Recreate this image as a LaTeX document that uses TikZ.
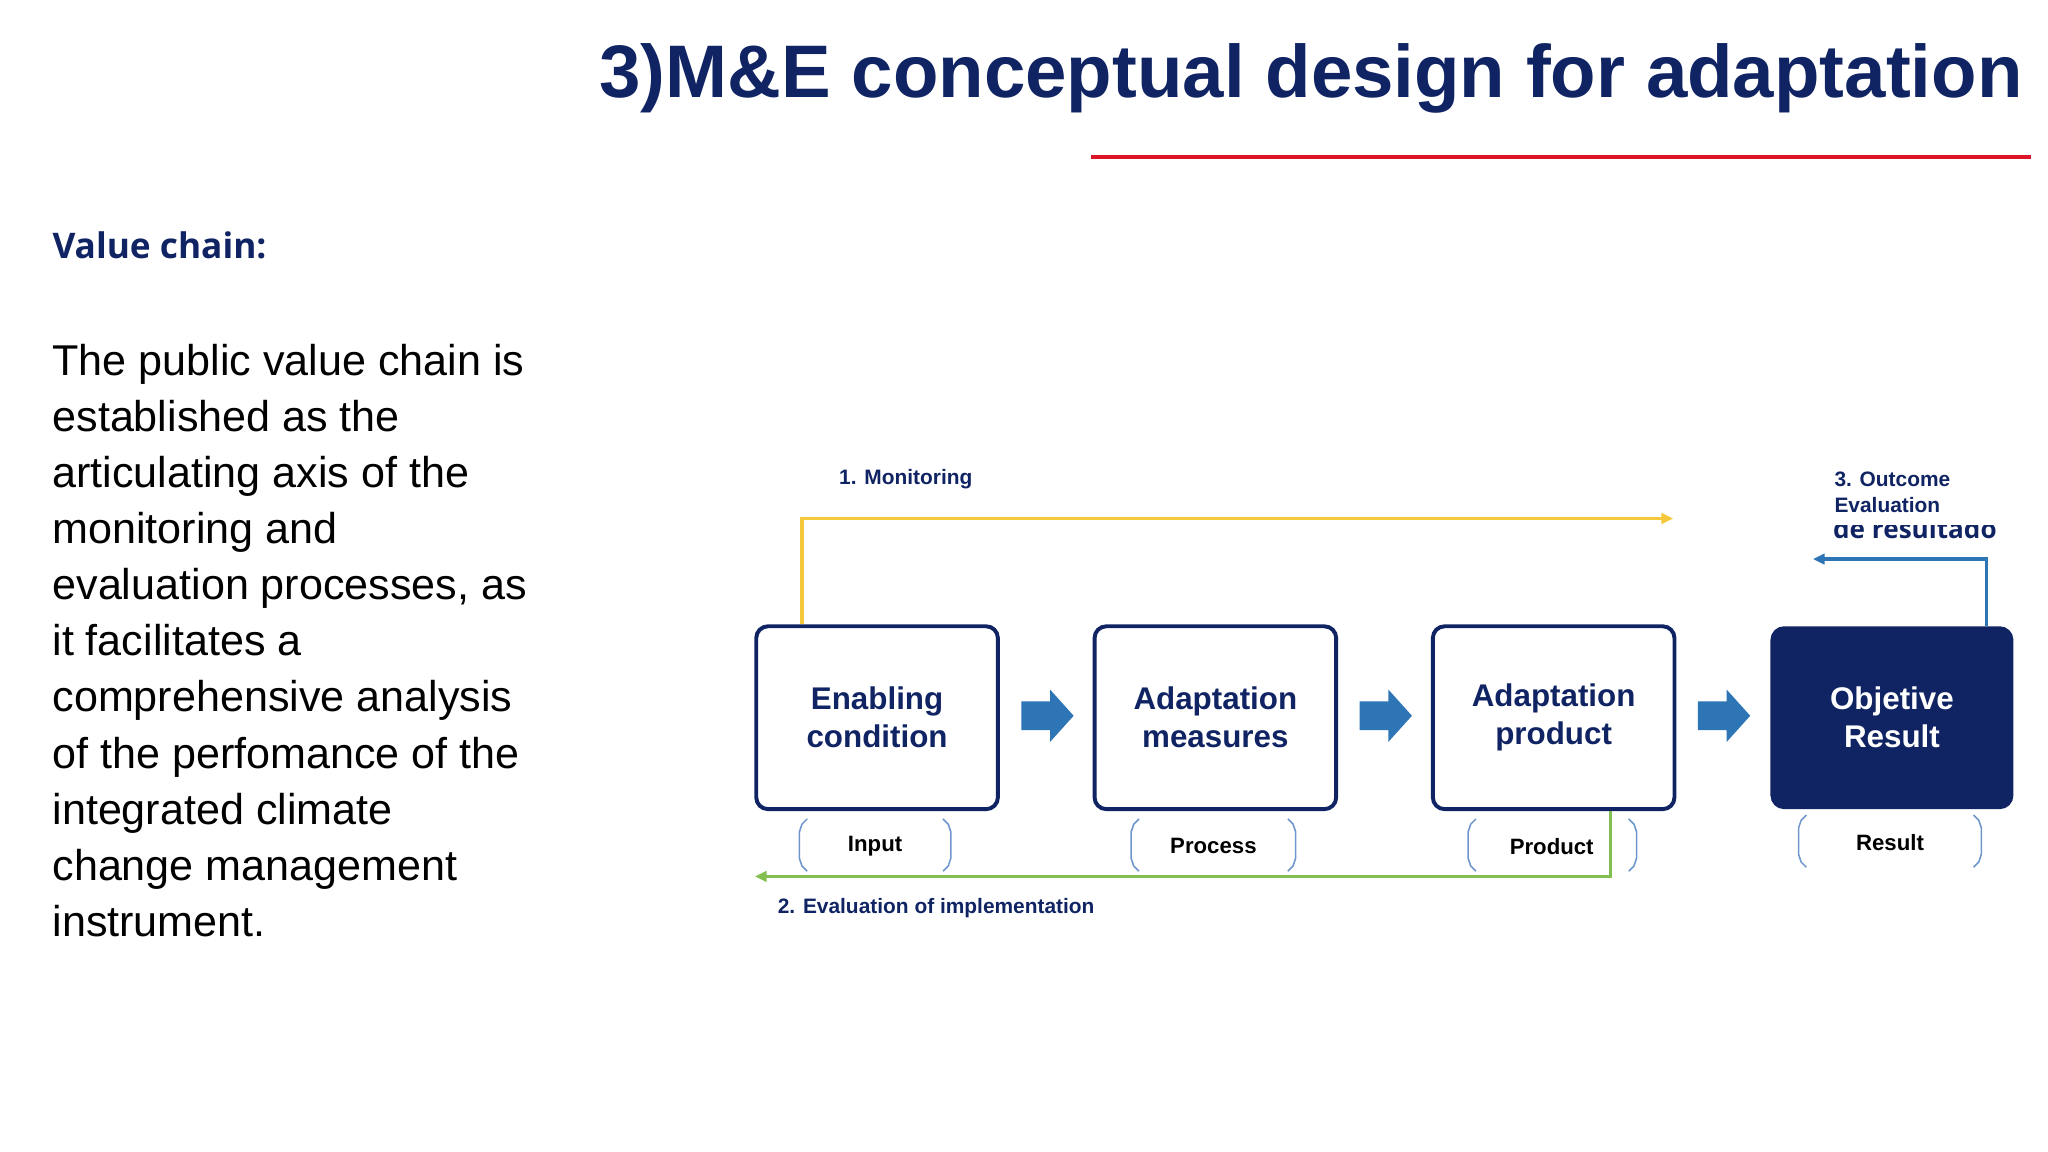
\documentclass[tikz,border=0pt]{standalone}
\usepackage{fontspec}
\setmainfont{Liberation Sans}
\newfontfamily\osans{Open Sans}
\usetikzlibrary{arrows.meta}
\definecolor{navy}{RGB}{16,36,100}
\definecolor{myred}{RGB}{220,20,40}
\definecolor{ablue}{RGB}{46,117,182}
\definecolor{yel}{RGB}{245,200,60}
\definecolor{grn}{RGB}{130,190,80}
\definecolor{brk}{RGB}{110,150,205}
\tikzset{
 x=1pt,y=-1pt,
 stagebox/.style={draw=navy,line width=3pt,rounded corners=9pt,minimum width=185pt,minimum height=140pt,align=center,font=\fontsize{24}{29}\selectfont\bfseries,text=navy,fill=white},
 lbl/.style={font=\fontsize{17}{20}\selectfont\bfseries,text=black},
 clbl/.style={font=\fontsize{16}{20}\selectfont\bfseries,text=navy,anchor=west,align=left},
 brack/.style={draw=brk,line width=1.2pt},
 flow/.style={line width=2.5pt}
}
\begin{document}
\begin{tikzpicture}
\useasboundingbox (0,0) rectangle (1568,882);
\node[anchor=east,font=\fontsize{57}{62}\selectfont\bfseries,text=navy] (title) at (1552,60) {3)M\&E conceptual design for adaptation};
\draw[myred,line width=3pt] (835,120) coordinate (r1) -- (1555,120) coordinate (r2);
\node[anchor=west,font=\osans\fontsize{27}{32}\selectfont\bfseries,text=navy,inner sep=0] (vc) at (40,188) {Value chain:};
\node[anchor=north west,inner sep=0,align=left,font=\fontsize{33}{43}\selectfont] (para) at (40,263) {The public value chain is\\established as the\\articulating axis of the\\monitoring and\\evaluation processes, as\\it facilitates a\\comprehensive analysis\\of the perfomance of the\\integrated climate\\change management\\instrument.};

\node[stagebox] (b1) at (671.5,549.5) {Enabling\\condition};
\node[stagebox] (b2) at (930.5,549.5) {Adaptation\\measures};
\node[stagebox] (b3) at (1189.5,549.5) {\rule{0pt}{14pt}Adaptation\\product};
\node[stagebox,fill=navy,text=white,minimum width=183pt,minimum height=137pt] (b4) at (1448.5,549.5) {\rule{0pt}{14pt}Objetive\\Result};

\foreach \cx/\n in {802/a1,1061/a2,1320/a3}{
 \coordinate (\n) at (\cx,548);
 \fill[ablue,shift={(\n)}] (-20,-11) -- (2,-11) -- (2,-20) -- (20,0) -- (2,20) -- (2,11) -- (-20,11) -- cycle;
}

% brackets
\foreach \l/\r/\t/\b in {612/728/627/667,866/992/627/667,1124/1253/627/667,1377/1517/624/664}{
 \draw[brack] (\l+6,\t) -- (\l+2,\t+4) -- (\l,\t+10) -- (\l,\b-10) -- (\l+2,\b-4) -- (\l+6,\b);
 \draw[brack] (\r-6,\t) -- (\r-2,\t+4) -- (\r,\t+10) -- (\r,\b-10) -- (\r-2,\b-4) -- (\r-6,\b);
}
\node[lbl] (li) at (670,648) {Input};
\node[lbl] (lp) at (929,648) {Process};
\node[lbl] (lq) at (1188,648) {Product};
\node[lbl] (lr) at (1447,645) {Result};

\coordinate (m1) at (1281,397);
\draw[flow,yel,-{Triangle[length=9pt,width=8pt]}] (b1.north -| 614,0) -- (614,397) -- (m1);
\node[clbl] (mon) at (639,367) {1. Monitoring};
\coordinate (e1) at (578,671);
\draw[flow,grn,-{Triangle[length=9pt,width=8pt]}] (b3.south -| 1233,0) -- (1233,671) -- (e1);
\node[clbl] (ev) at (592,695) {2. Evaluation of implementation};
\coordinate (o1) at (1388,428);
\draw[flow,ablue,-{Triangle[length=9pt,width=8pt]}] (b4.north -| 1521,0) -- (1521,428) -- (o1);
\node[clbl] (oe) at (1401,377) {3. Outcome\\Evaluation};
\begin{scope}
\clip (1395,402) rectangle (1540,414);
\node[anchor=base west,font=\osans\fontsize{20}{22}\selectfont\bfseries,text=navy] (cut) at (1400,412) {de resultado};
\end{scope}
\end{tikzpicture}
\end{document}
